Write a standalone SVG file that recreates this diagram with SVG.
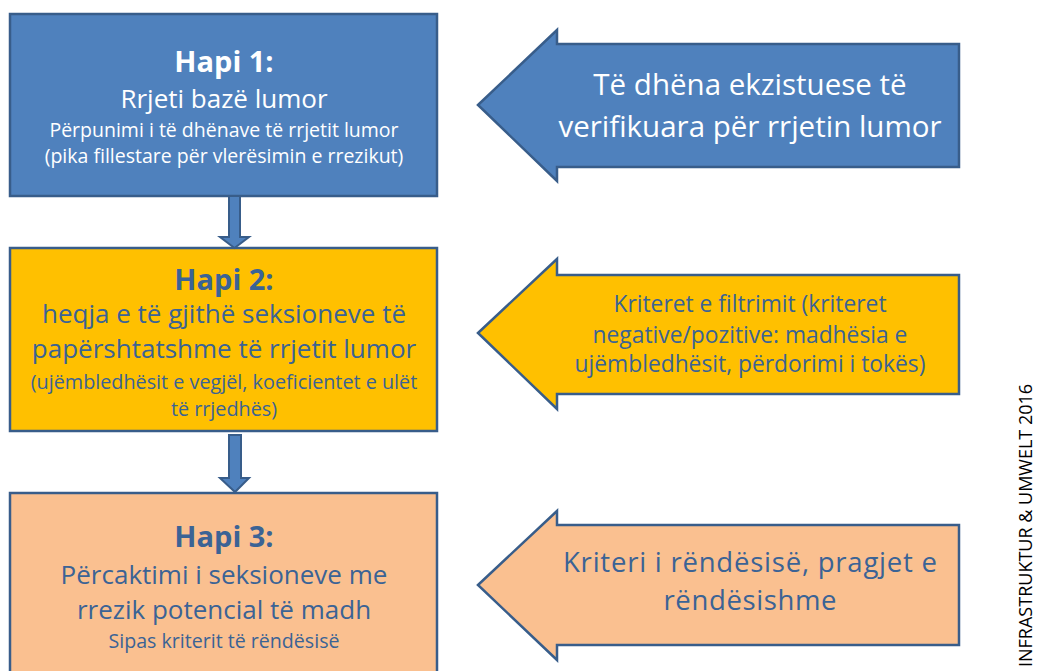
<svg xmlns="http://www.w3.org/2000/svg" width="1038" height="671" viewBox="0 0 1038 671">
<style>
.box{stroke:#385d8a;stroke-width:2.5}
.blue{fill:#4f81bd}
.yellow{fill:#ffc000}
.orange{fill:#fac090}
.t{font-family:"Open Sans","Noto Sans","Liberation Sans",sans-serif;text-anchor:middle}
.w{fill:#ffffff}
.d{fill:#3b6395}
.b{font-weight:bold}
.conn{fill:#4f81bd;stroke:#385d8a;stroke-width:2}
</style>
<rect width="1038" height="671" fill="#ffffff"/>
<g id="step1">
<rect class="box blue" x="10" y="14" width="427" height="182"/>
<text class="t w b" x="224" y="72" font-size="29">Hapi 1:</text>
<text class="t w" x="224" y="108" font-size="26">Rrjeti bazë lumor</text>
<text class="t w" x="224" y="137" font-size="19.5">Përpunimi i të dhënave të rrjetit lumor</text>
<text class="t w" x="224" y="163" font-size="19.5">(pika fillestare për vlerësimin e rrezikut)</text>
</g>
<g id="step2">
<rect class="box yellow" x="10" y="248" width="427" height="183"/>
<text class="t d b" x="224" y="290" font-size="29">Hapi 2:</text>
<text class="t d" x="224" y="323" font-size="26">heqja e të gjithë seksioneve të</text>
<text class="t d" x="224" y="358" font-size="26">papërshtatshme të rrjetit lumor</text>
<text class="t d" x="224" y="389" font-size="19.8">(ujëmbledhësit e vegjël, koeficientet e ulët</text>
<text class="t d" x="224" y="416" font-size="19.8">të rrjedhës)</text>
</g>
<g id="step3">
<rect class="box orange" x="10" y="493" width="427" height="200"/>
<text class="t d b" x="224" y="547" font-size="29">Hapi 3:</text>
<text class="t d" x="224" y="584" font-size="26">Përcaktimi i seksioneve me</text>
<text class="t d" x="224" y="619" font-size="26">rrezik potencial të madh</text>
<text class="t d" x="224" y="648" font-size="19.6">Sipas kriterit të rëndësisë</text>
</g>
<g id="input1">
<polygon class="box blue" points="478,105 557,30 557,44 959,44 959,167 557,167 557,181"/>
<text class="t w" x="750" y="95" font-size="29.5">Të dhëna ekzistuese të</text>
<text class="t w" x="750" y="137" font-size="29.5">verifikuara për rrjetin lumor</text>
</g>
<g id="input2">
<polygon class="box yellow" points="478,333 557,259 557,275 959,275 959,394 557,394 557,409"/>
<text class="t d" x="750" y="312" font-size="22.8">Kriteret e filtrimit (kriteret</text>
<text class="t d" x="750" y="343" font-size="22.8">negative/pozitive: madhësia e</text>
<text class="t d" x="750" y="372" font-size="22.8">ujëmbledhësit, përdorimi i tokës)</text>
</g>
<g id="input3">
<polygon class="box orange" points="478,585 557,511 557,525 959,525 959,645 557,645 557,660"/>
<text class="t d" x="750" y="572" font-size="27.5" textLength="374">Kriteri i rëndësisë, pragjet e</text>
<text class="t d" x="750" y="610" font-size="27.5" textLength="173">rëndësishme</text>
</g>
<g id="connectors">
<polygon class="conn" points="229,196 240,196 240,237 249,237 234.5,248 220,237 229,237"/>
<polygon class="conn" points="229,435 241,435 241,478 249,478 235,492 220,478 229,478"/>
</g>
<g id="credit">
<text font-family="Open Sans,Noto Sans,Liberation Sans,sans-serif" font-size="18" fill="#000000" transform="translate(1032,667) rotate(-90)">INFRASTRUKTUR &amp; UMWELT 2016</text>
</g>
</svg>
